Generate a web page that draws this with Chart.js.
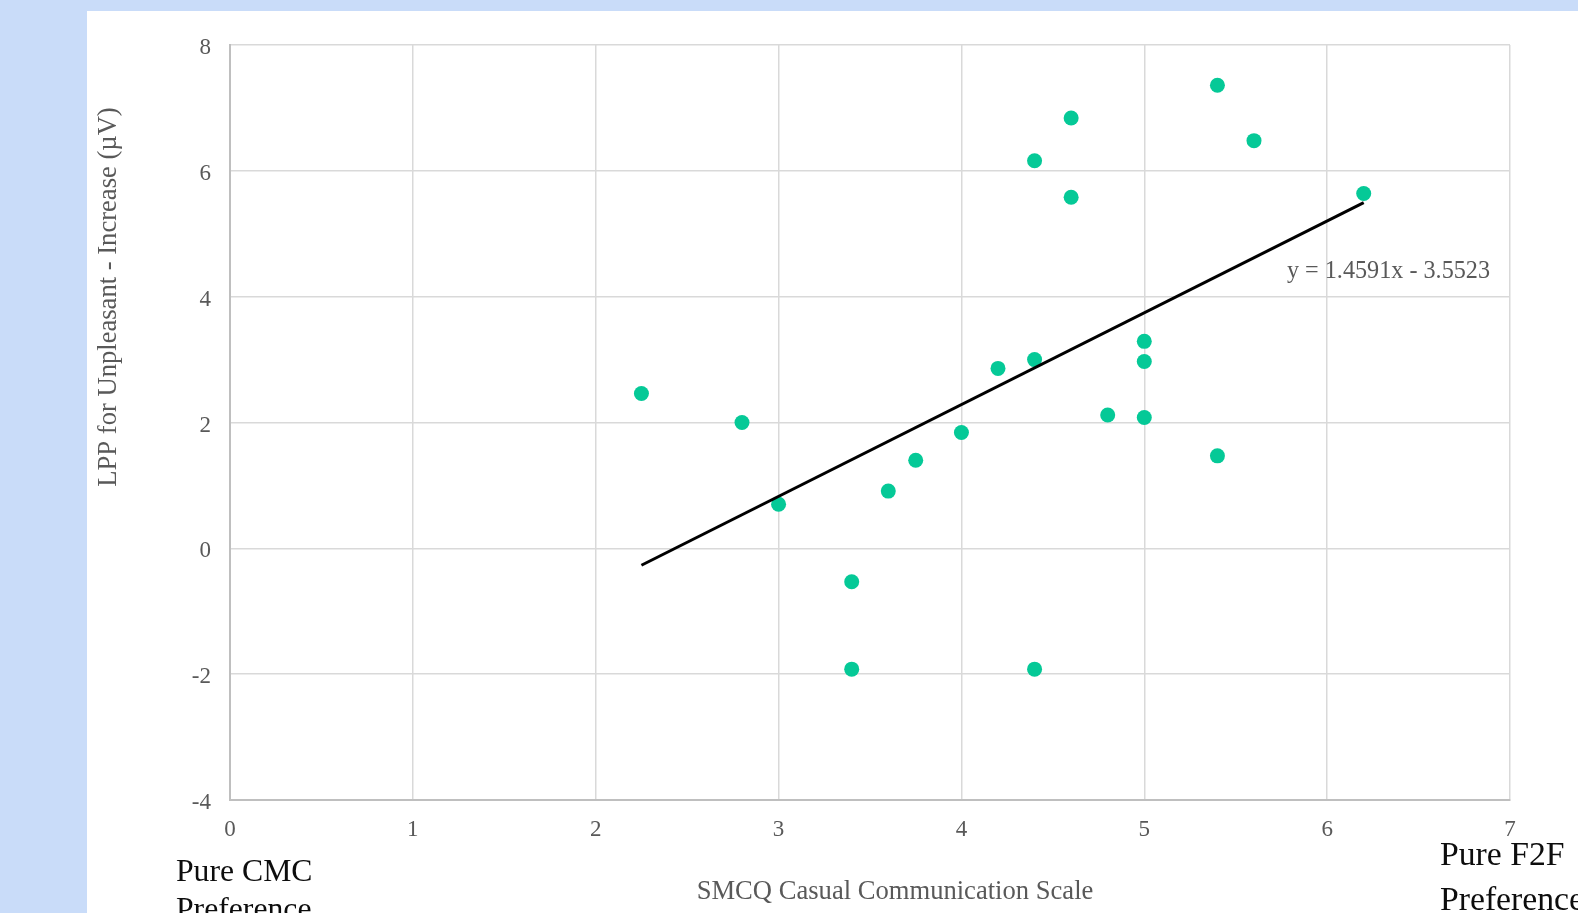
<!DOCTYPE html>
<html>
<head>
<meta charset="utf-8">
<script src="https://cdn.jsdelivr.net/npm/chart.js@4.4.1/dist/chart.umd.min.js"></script>
<style>
  html, body { margin: 0; padding: 0; }
  body { width: 1578px; height: 913px; background: #C9DCF9; overflow: hidden; position: relative; }
  #panel { position: absolute; left: 87px; top: 11px; width: 1491px; height: 902px; background: #ffffff; }
  canvas { display: block; }
</style>
</head>
<body>
<div id="panel"><canvas id="chart" width="1491" height="902"></canvas></div>
<script>
// SMCQ casual communication score (x) vs. LPP increase for unpleasant images (y)
const smcqScores = [2.25, 2.8, 3.0, 3.4, 3.4, 3.6, 3.75, 4.0, 4.2, 4.4, 4.4, 4.4, 4.6, 4.6, 4.8, 5.0, 5.0, 5.0, 5.4, 5.4, 5.6, 6.2];
const lppIncrease = [2.46, 2.0, 0.7, -0.53, -1.92, 0.91, 1.4, 1.84, 2.86, 3.0, 6.16, -1.92, 6.84, 5.58, 2.12, 3.29, 2.97, 2.08, 7.36, 1.47, 6.48, 5.64];

// Linear fit reported on the chart
const trendSlope = 1.4591;
const trendIntercept = -3.5523;
const trendLabel = 'y = 1.4591x - 3.5523';

// Axis ranges and tick steps
const xRange = [0, 7];
const yRange = [-4, 8];
const xStep = 1;
const yStep = 2;

const xTitle = 'SMCQ Casual Communication Scale';
const yTitle = 'LPP for Unpleasant - Increase (\u00B5V)';
const leftEndLabel = ['Pure CMC', 'Preference'];
const rightEndLabel = ['Pure F2F', 'Preference'];

const SERIF = '"Liberation Serif", "Times New Roman", serif';
const GREY = '#595959';

const points = smcqScores.map((x, i) => ({ x, y: lppIncrease[i] }));
const xMin = Math.min(...smcqScores), xMax = Math.max(...smcqScores);
const trendPoints = [xMin, xMax].map(x => ({ x, y: trendSlope * x + trendIntercept }));

// Extra text: axis titles, end-of-scale captions and the fit equation
const annotations = {
  id: 'annotations',
  afterDraw(chart) {
    const ctx = chart.ctx;
    const xs = chart.scales.x, ys = chart.scales.y;
    ctx.save();

    // fit equation
    ctx.fillStyle = GREY;
    ctx.font = '24.2px ' + SERIF;
    ctx.textAlign = 'left';
    ctx.textBaseline = 'alphabetic';
    ctx.fillText(trendLabel, xs.getPixelForValue(5.78), ys.getPixelForValue(4.3));

    // x axis title
    ctx.font = '26.6px ' + SERIF;
    ctx.textAlign = 'center';
    ctx.fillText(xTitle, 808, 888);

    // y axis title
    ctx.save();
    ctx.translate(22, 286);
    ctx.rotate(-Math.PI / 2);
    ctx.textBaseline = 'middle';
    ctx.fillText(yTitle, 0, 0);
    ctx.restore();

    // scale end captions
    ctx.fillStyle = '#0d0d0d';
    ctx.textAlign = 'left';
    ctx.textBaseline = 'alphabetic';
    ctx.font = '31.7px ' + SERIF;
    ctx.fillText(leftEndLabel[0], 89, 870);
    ctx.fillText(leftEndLabel[1], 89, 908);
    ctx.font = '33.7px ' + SERIF;
    ctx.fillText(rightEndLabel[0], 1353, 854);
    ctx.fillText(rightEndLabel[1], 1353, 899);

    ctx.restore();
  }
};

new Chart(document.getElementById('chart'), {
  data: {
    datasets: [
      {
        type: 'line',
        label: 'Linear fit',
        data: trendPoints,
        borderColor: '#000000',
        borderWidth: 3,
        pointRadius: 0,
        fill: false,
        order: 0
      },
      {
        type: 'scatter',
        label: 'Participants',
        data: points,
        backgroundColor: '#05C997',
        borderColor: '#05C997',
        borderWidth: 0,
        pointRadius: 7.5,
        order: 1
      }
    ]
  },
  options: {
    responsive: false,
    animation: false,
    devicePixelRatio: 1,
    layout: { padding: { left: 0, top: 34, right: 68, bottom: 0 } },
    plugins: { legend: { display: false }, tooltip: { enabled: false } },
    scales: {
      x: {
        type: 'linear',
        position: 'bottom',
        min: xRange[0],
        max: xRange[1],
        ticks: { stepSize: xStep, padding: 16, color: GREY, font: { family: SERIF, size: 23 } },
        grid: { color: '#d9d9d9', lineWidth: 1.5, drawTicks: false },
        border: { color: '#bfbfbf', width: 2 },
        afterFit(scale) { scale.height = 113; }
      },
      y: {
        type: 'linear',
        position: 'left',
        min: yRange[0],
        max: yRange[1],
        ticks: { stepSize: yStep, padding: 19, labelOffset: 3, color: GREY, font: { family: SERIF, size: 23 } },
        grid: { color: '#d9d9d9', lineWidth: 1.5, drawTicks: false },
        border: { color: '#bfbfbf', width: 2 },
        afterFit(scale) { scale.width = 143; }
      }
    }
  },
  plugins: [annotations]
});
</script>
</body>
</html>
